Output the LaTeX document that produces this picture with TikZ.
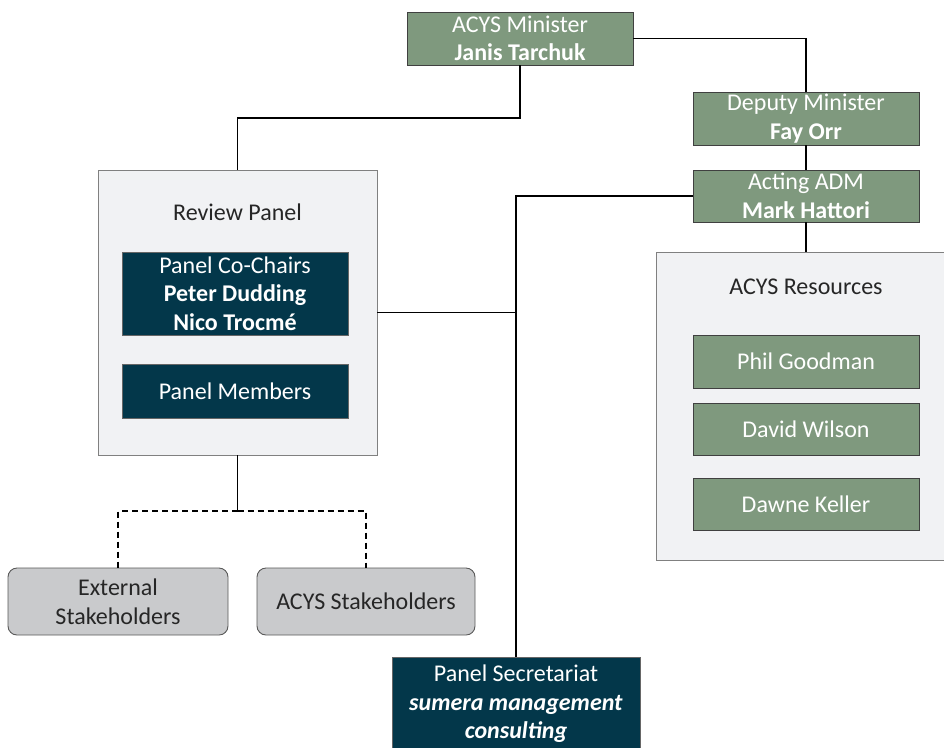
\documentclass[tikz,border=0pt]{standalone}
\usepackage{fontspec}
\setmainfont{Carlito}
\definecolor{grn}{RGB}{127,153,126}
\definecolor{teal}{RGB}{3,55,74}
\definecolor{panel}{RGB}{241,242,244}
\definecolor{stk}{RGB}{201,202,204}
\begin{document}
\begin{tikzpicture}[x=1pt,y=-1pt,
  txt/.style={font=\fontsize{24}{28.5}\selectfont, align=center, inner sep=0pt},
  greenbox/.style={txt, draw=black!75, line width=0.9pt, fill=grn, text=white, minimum width=226pt, minimum height=53pt},
  darkbox/.style={txt, draw=black!60, line width=0.9pt, fill=teal, text=white, minimum width=226pt},
  panelbox/.style={draw=black!50, line width=0.9pt, fill=panel, inner sep=0pt},
  stkbox/.style={txt, draw=black!65, line width=0.9pt, fill=stk, text=black!85, rounded corners=9pt, minimum height=67pt},
  conn/.style={line width=1.3pt, black},
  dconn/.style={line width=1.3pt, black, dashed, dash pattern=on 6pt off 4pt}]
\useasboundingbox (0,0) rectangle (944,747);
\clip (0,0) rectangle (944,747);

% containers
\node[panelbox, minimum width=279pt, minimum height=285pt] (rev) at (237.5,312.5) {};
\node[txt, text=black!85] (revt) at (237.5,212) {Review Panel};
\node[panelbox, minimum width=288pt, minimum height=308pt] (res) at (800,406) {};
\node[txt, text=black!85] (rest) at (806,287) {ACYS Resources};

% green boxes
\node[greenbox] (min) at (520,38.5) {ACYS Minister\\\textbf{Janis Tarchuk}};
\node[greenbox] (dep) at (806,118.5) {Deputy Minister\\\textbf{Fay Orr}};
\node[greenbox, minimum height=52pt] (act) at (806,196) {Acting ADM\\\textbf{Mark Hattori}};
\node[greenbox] (phil) at (806,361.5) {Phil Goodman};
\node[greenbox, minimum height=52pt] (david) at (806,429) {David Wilson};
\node[greenbox, minimum height=52pt] (dawne) at (806,504) {Dawne Keller};

% dark boxes
\node[darkbox, minimum height=83pt] (chairs) at (235,293.5) {Panel Co-Chairs\\\textbf{Peter Dudding}\\\textbf{Nico Trocmé}};
\node[darkbox, minimum height=54pt] (memb) at (235,391) {Panel Members};
\node[darkbox, minimum width=248pt, minimum height=110pt, anchor=north] (sec) at (516,657) {};
\node[txt, text=white] (sect) at (516,704) {Panel Secretariat\\\textbf{\itshape sumera management}\\\textbf{\itshape consulting}};

% stakeholders
\node[stkbox, minimum width=220pt] (ext) at (118,601.5) {External\\Stakeholders};
\node[stkbox, minimum width=218pt] (acs) at (366,601.5) {ACYS Stakeholders};

% connectors
\coordinate (j1) at (237.5,118);
\coordinate (j2) at (237.5,511);
\draw[conn] (min.east) -| (dep.north);
\draw[conn] (min.south) |- (j1) -- (rev.north);
\draw[conn] (dep.south) -- (act.north);
\draw[conn] (act.south) -- (act.south |- res.north);
\draw[conn] (act.west) -| (sec.north);
\draw[conn] (rev.east) -- (rev.east -| sec.north);
\draw[conn] (rev.south) -- (j2);
\draw[dconn] (j2) -| (ext.north);
\draw[dconn] (j2) -| (acs.north);
\end{tikzpicture}
\end{document}
